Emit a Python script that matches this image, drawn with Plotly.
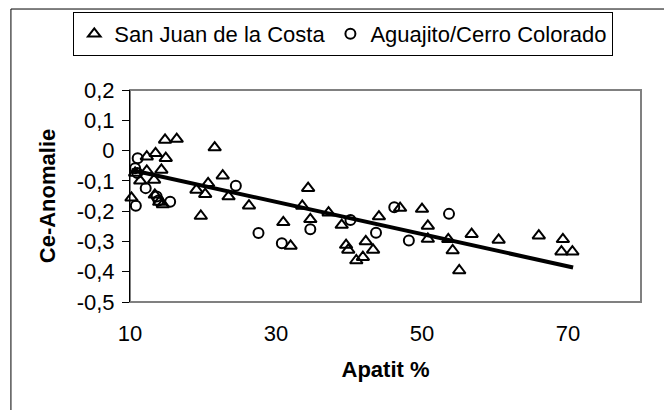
import plotly.graph_objects as go

# ---- data ----
sj_x = [10.2, 10.7, 11.4, 12.3, 12.3, 13.3, 13.4, 13.5, 14.0, 14.3, 14.5, 14.8, 14.9, 16.4,
        19.1, 19.7, 20.3, 20.7, 21.6, 22.7, 23.5, 26.3, 31.0, 32.0, 33.6, 34.4, 34.7, 37.2,
        39.0, 39.6, 39.9, 41.0, 41.9, 42.3, 43.3, 44.1, 47.0, 50.0, 50.8, 50.8, 53.6, 54.2,
        55.1, 56.8, 60.5, 66.0, 69.3, 69.1, 70.6]
sj_y = [-0.156, -0.074, -0.100, -0.020, -0.067, -0.097, -0.146, -0.009, -0.170, -0.064, -0.178,
        0.035, -0.025, 0.038, -0.130, -0.216, -0.144, -0.108, 0.010, -0.083, -0.152, -0.182,
        -0.237, -0.315, -0.183, -0.124, -0.227, -0.205, -0.246, -0.312, -0.328, -0.363, -0.352,
        -0.300, -0.328, -0.218, -0.190, -0.193, -0.249, -0.292, -0.293, -0.330, -0.396, -0.276,
        -0.295, -0.281, -0.293, -0.334, -0.334]

ag_x = [10.7, 10.8, 11.0, 11.05, 12.15, 13.65, 13.9, 15.5, 24.5, 27.6, 30.8, 34.7, 40.2,
        43.7, 46.2, 48.2, 53.7]
ag_y = [-0.058, -0.182, -0.074, -0.025, -0.124, -0.152, -0.165, -0.169, -0.116, -0.272,
        -0.306, -0.260, -0.229, -0.271, -0.187, -0.297, -0.209]

trend_x = [10.2, 70.7]
trend_y = [-0.064, -0.386]

y_tickvals = [0.2, 0.1, 0, -0.1, -0.2, -0.3, -0.4, -0.5]
y_ticktext = ["0,2", "0,1", "0", "-0,1", "-0,2", "-0,3", "-0,4", "-0,5"]
x_tickvals = [10, 30, 50, 70]

FONT = "Liberation Sans, Arial, sans-serif"

fig = go.Figure()
fig.add_trace(go.Scatter(
    x=sj_x, y=sj_y, mode="markers", name="San Juan de la Costa", cliponaxis=False,
    marker=dict(symbol="triangle-up-open", size=11, color="black", line=dict(width=2, color="black")),
))
fig.add_trace(go.Scatter(
    x=ag_x, y=ag_y, mode="markers", name="Aguajito/Cerro Colorado", cliponaxis=False,
    marker=dict(symbol="circle-open", size=10, color="black", line=dict(width=2, color="black")),
))
fig.add_trace(go.Scatter(
    x=trend_x, y=trend_y, mode="lines", showlegend=False, cliponaxis=False,
    line=dict(color="black", width=4),
))

# plot area border (gray) and outer chart border (black)
fig.add_shape(type="rect", xref="paper", yref="paper", x0=0, x1=1, y0=0, y1=1,
              line=dict(color="#808080", width=2), layer="below")
fig.add_shape(type="rect", xref="paper", yref="paper", x0=-0.233, x1=1.2, y0=-0.7, y1=1.382,
              line=dict(color="black", width=1), layer="below")

fig.update_layout(
    width=664, height=410,
    margin=dict(l=130, r=23, t=90, b=108),
    paper_bgcolor="white", plot_bgcolor="white",
    font=dict(family=FONT, size=22, color="black"),
    showlegend=True,
    legend=dict(
        orientation="h", x=-0.111, y=1.368, xanchor="left", yanchor="top",
        bordercolor="black", borderwidth=1, bgcolor="white",
        font=dict(size=22), itemwidth=30, tracegroupgap=0,
    ),
    xaxis=dict(
        range=[10, 80], tickvals=x_tickvals, showgrid=False, zeroline=False,
        showline=False, ticks="", ticklabelstandoff=16,
        title=dict(text="<b>Apatit %</b>", standoff=16, font=dict(size=22)),
        tickfont=dict(size=22),
    ),
    yaxis=dict(
        range=[-0.5, 0.2], tickvals=y_tickvals, ticktext=y_ticktext, showgrid=False,
        zeroline=False, showline=True, linecolor="black", linewidth=1,
        ticks="outside", ticklen=7, tickcolor="black", tickwidth=1,
        ticklabelstandoff=3,
        title=dict(text="<b>Ce-Anomalie</b>", standoff=14, font=dict(size=22)),
        tickfont=dict(size=22),
    ),
)

fig.write_html("out.html", config={"displayModeBar": False},
               post_script="document.body.style.margin='0';")
